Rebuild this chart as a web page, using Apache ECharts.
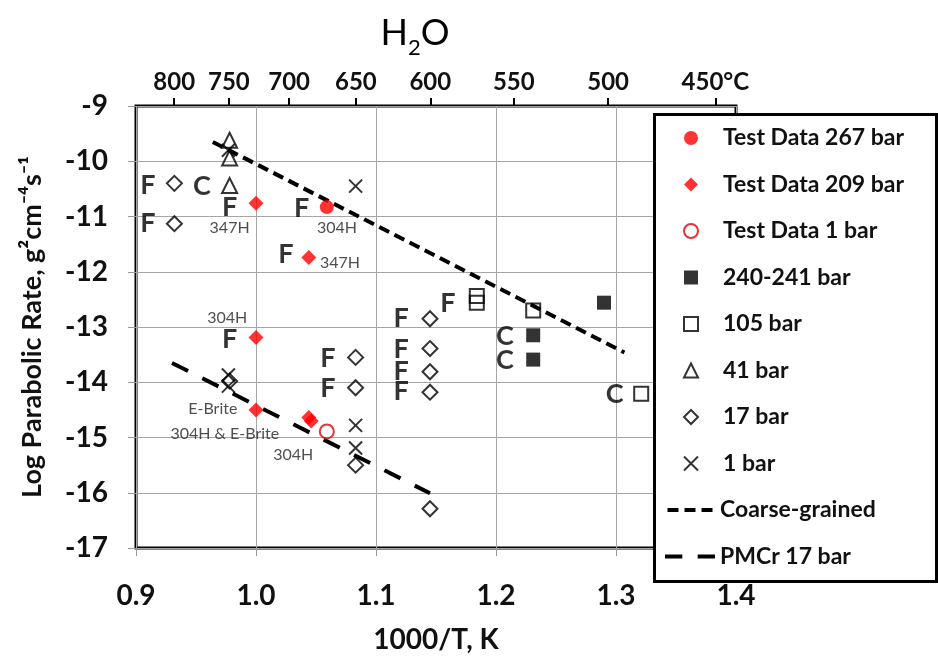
<!DOCTYPE html>
<html>
<head>
<meta charset="utf-8">
<script src="https://cdn.jsdelivr.net/npm/echarts@6/dist/echarts.min.js"></script>
<style>
  html, body { margin: 0; padding: 0; background: #fff; }
  #chart { width: 938px; height: 665px; }
</style>
</head>
<body>
<div id="chart"></div>
<script>
// top axis ticks, degrees C (placed at 1000/T)
const tempTicksC = [800, 750, 700, 650, 600, 550, 500, 450]

// [1000/T, log rate]
const test267 = [[1.059, -10.83]]
const test209 = [[1.0, -10.76], [1.044, -11.74], [1.0, -13.19], [1.0, -14.5], [1.044, -14.64], [1.046, -14.7]]
const test1 = [[1.059, -14.89]]
const bar240 = [[1.231, -13.15], [1.231, -13.59], [1.29, -12.56]]
const bar105 = [[1.184, -12.44], [1.184, -12.56], [1.231, -12.7], [1.321, -14.21]]
const bar41 = [[0.978, -9.62], [0.978, -9.94], [0.978, -10.44]]
const bar17 = [
  [0.932, -10.4], [0.932, -11.13], [0.978, -13.98],
  [1.083, -13.55], [1.083, -14.1], [1.083, -15.5],
  [1.145, -12.85], [1.145, -13.39], [1.145, -13.81], [1.145, -14.18], [1.145, -16.29],
]
const bar1 = [[0.977, -9.8], [1.083, -10.45], [0.977, -13.87], [0.977, -14.07], [1.083, -14.78], [1.083, -15.19]]
const coarseLine = [[0.964, -9.65], [1.307, -13.46]]
const pmcrLine = [[0.93, -13.65], [1.145, -16.01]]

// F = fine grained, C = coarse grained
const letterNotes = [
  [0.91, -10.44, 'F'], [0.91, -11.13, 'F'], [0.955, -10.45, 'C'],
  [0.978, -10.84, 'F'], [1.038, -10.85, 'F'], [1.025, -11.69, 'F'],
  [0.978, -13.22, 'F'], [1.06, -13.56, 'F'], [1.06, -14.11, 'F'],
  [1.16, -12.58, 'F'], [1.121, -12.85, 'F'], [1.121, -13.4, 'F'],
  [1.121, -13.8, 'F'], [1.121, -14.16, 'F'],
  [1.2075, -13.16, 'C'], [1.2075, -13.6, 'C'], [1.299, -14.22, 'C'],
]
const alloyNotes = [
  [0.978, -11.2, '347H'], [1.0675, -11.2, '304H'], [1.07, -11.84, '347H'],
  [0.976, -12.84, '304H'], [0.964, -14.49, 'E-Brite'],
  [0.974, -14.93, '304H & E-Brite'], [1.031, -15.31, '304H'],
]

const markerNames = [
  'Test Data 267 bar', 'Test Data 209 bar', 'Test Data 1 bar', '240-241 bar', '105 bar',
  '41 bar', '17 bar', '1 bar',
]

const FONT = 'Lato'
const tempPos = tempTicksC.map((t) => 1000 / (t + 273.15))
const xMark = 'path://M0,0L10,10M10,0L0,10'

function markerSeries(name, data, symbol, size, style) {
  return { name, type: 'scatter', data, symbol, symbolSize: size, itemStyle: style, z: 3 }
}

function noteSeries(notes, textStyle) {
  return {
    type: 'scatter',
    silent: true,
    symbolSize: 1,
    itemStyle: { color: 'rgba(0,0,0,0)' },
    data: notes.map((d) => ({ value: [d[0], d[1]], name: d[2] })),
    label: { show: true, position: 'inside', formatter: '{b}', fontFamily: FONT, ...textStyle },
    z: 4,
  }
}

const openBlack = { color: 'rgba(0,0,0,0)', borderColor: '#000', borderWidth: 2 }
const legendText = { fontFamily: FONT, fontSize: 23, fontWeight: 'bold', color: '#111', lineHeight: 24 }

const chart = echarts.init(document.getElementById('chart'))
chart.setOption({
  animation: false,
  title: {
    text: '{a|H}{b|2}{a|O}',
    left: 410,
    textAlign: 'center',
    top: 2,
    textStyle: {
      rich: {
        a: { fontFamily: FONT, fontSize: 36, fontWeight: 'normal', lineHeight: 52, color: '#000' },
        b: { fontFamily: FONT, fontSize: 22, fontWeight: 'normal', lineHeight: 18, color: '#000', verticalAlign: 'bottom' },
      },
    },
  },
  grid: { left: 136, right: 202, top: 106, bottom: 117, show: true, borderColor: '#000', borderWidth: 3 },
  xAxis: [
    {
      type: 'value',
      min: 0.9,
      max: 1.4,
      interval: 0.1,
      axisLine: { show: false },
      axisTick: { show: true, length: 8, lineStyle: { color: '#999' } },
      splitLine: { show: true, lineStyle: { color: '#a6a6a6', width: 1 } },
      axisLabel: {
        margin: 34, fontFamily: FONT, fontSize: 28, fontWeight: 'bold', color: '#111',
        formatter: (v) => v.toFixed(1),
      },
      name: '1000/T, K',
      nameLocation: 'middle',
      nameGap: 78,
      nameTextStyle: { fontFamily: FONT, fontSize: 28, fontWeight: 'bold', color: '#111' },
    },
    {
      type: 'value',
      position: 'top',
      min: 0.9,
      max: 1.4,
      axisLine: { show: false },
      splitLine: { show: false },
      axisTick: { show: true, customValues: tempPos, length: 8, lineStyle: { color: '#000', width: 2 } },
      axisLabel: {
        customValues: tempPos,
        margin: 12, fontFamily: FONT, fontSize: 24, fontWeight: 'bold', color: '#111',
        formatter: (v) => {
          const t = Math.round(1000 / v - 273.15)
          return t === 450 ? t + '°C' : String(t)
        },
      },
    },
  ],
  yAxis: {
    type: 'value',
    min: -17,
    max: -9,
    interval: 1,
    axisLine: { show: false },
    axisTick: { show: true, length: 8, lineStyle: { color: '#999' } },
    splitLine: { show: true, lineStyle: { color: '#a6a6a6', width: 1 } },
    axisLabel: { margin: 28, fontFamily: FONT, fontSize: 28, fontWeight: 'bold', color: '#111' },
    name: 'Log Parabolic Rate, g²cm⁻⁴s⁻¹',
    nameLocation: 'middle',
    nameGap: 90,
    nameTextStyle: { fontFamily: FONT, fontSize: 27, fontWeight: 'bold', color: '#111' },
  },
  graphic: [
    {
      type: 'rect',
      left: 653,
      top: 113,
      z: 3,
      shape: { width: 282, height: 467 },
      style: { fill: '#fff', stroke: '#000', lineWidth: 3 },
    },
  ],
  legend: [
    {
      orient: 'vertical',
      left: 683,
      top: 126,
      padding: 0,
      itemWidth: 14,
      itemHeight: 14,
      itemGap: 22.5,
      selectedMode: false,
      z: 5,
      formatter: (name) => '{g|}' + name,
      textStyle: { ...legendText, rich: { g: { width: 20 } } },
      data: markerNames,
    },
    {
      orient: 'vertical',
      left: 665,
      top: 498,
      padding: 0,
      itemWidth: 50,
      itemHeight: 4,
      itemGap: 22.5,
      selectedMode: false,
      z: 5,
      textStyle: legendText,
      data: [
        { name: 'Coarse-grained', icon: 'path://M0,0h11v4h-11zM17,0h11v4h-11zM34,0h11v4h-11z' },
        { name: 'PMCr 17 bar', icon: 'path://M0,0h18v4h-18zM34,0h18v4h-18z' },
      ],
    },
  ],
  series: [
    {
      name: 'Coarse-grained', type: 'line', data: coarseLine, symbol: 'none', z: 2,
      lineStyle: { color: '#000', width: 4, type: [11, 6] }, itemStyle: { color: '#000' },
    },
    {
      name: 'PMCr 17 bar', type: 'line', data: pmcrLine, symbol: 'none', z: 2,
      lineStyle: { color: '#000', width: 4, type: [18, 16] }, itemStyle: { color: '#000' },
    },
    markerSeries('Test Data 267 bar', test267, 'circle', 14, { color: '#ff0000' }),
    markerSeries('Test Data 209 bar', test209, 'diamond', 15, { color: '#ff0000' }),
    markerSeries('Test Data 1 bar', test1, 'circle', 14, { color: 'rgba(0,0,0,0)', borderColor: '#e00000', borderWidth: 2 }),
    markerSeries('240-241 bar', bar240, 'rect', 14, { color: '#000' }),
    markerSeries('105 bar', bar105, 'rect', 14, openBlack),
    markerSeries('41 bar', bar41, 'triangle', 15, openBlack),
    markerSeries('17 bar', bar17, 'diamond', 15, openBlack),
    markerSeries('1 bar', bar1, xMark, 13, openBlack),
    noteSeries(letterNotes, { fontSize: 27, fontWeight: 'bold', color: '#000' }),
    noteSeries(alloyNotes, { fontSize: 16, color: '#222' }),
  ],
})
</script>
</body>
</html>
